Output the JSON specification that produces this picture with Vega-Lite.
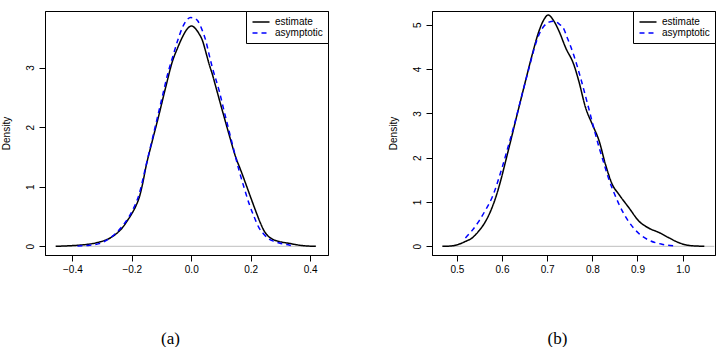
{
  "$schema": "https://vega.github.io/schema/vega-lite/v6.json",
  "background": "white",
  "padding": {"left": 0, "top": 10, "right": 0, "bottom": 0},
  "spacing": 104,
  "bounds": "flush",
  "resolve": {
    "scale": {"color": "independent", "strokeDash": "independent"},
    "legend": {"color": "independent", "strokeDash": "independent"}
  },
  "config": {
    "view": {"stroke": "black", "strokeWidth": 1},
    "axis": {
      "grid": false,
      "domainColor": "black",
      "tickColor": "black",
      "tickSize": 6,
      "labelFont": "Liberation Sans",
      "labelFontSize": 10,
      "labelColor": "black",
      "titleFont": "Liberation Sans",
      "titleFontWeight": "normal",
      "titleColor": "black"
    },
    "legend": {
      "orient": "top-right",
      "offset": 0,
      "title": null,
      "strokeColor": "black",
      "fillColor": "white",
      "padding": 5,
      "labelFont": "Liberation Sans",
      "labelFontSize": 10,
      "labelColor": "black",
      "symbolType": "M-1.7,0H1.7",
      "symbolSize": 100,
      "symbolStrokeWidth": 1.5,
      "labelOffset": 8,
      "symbolOffset": 4,
      "rowPadding": 0
    }
  },
  "datasets": {
    "za": [{"x": -0.456, "x2": 0.42, "y": 0}],
    "zb": [{"x": 0.468, "x2": 1.07, "y": 0}],
    "a": [
      {"series": "estimate", "x": -0.456, "y": 0},
      {"series": "estimate", "x": -0.40, "y": 0.012},
      {"series": "estimate", "x": -0.355, "y": 0.03},
      {"series": "estimate", "x": -0.31, "y": 0.07},
      {"series": "estimate", "x": -0.271, "y": 0.145},
      {"series": "estimate", "x": -0.250, "y": 0.22},
      {"series": "estimate", "x": -0.232, "y": 0.31},
      {"series": "estimate", "x": -0.215, "y": 0.43},
      {"series": "estimate", "x": -0.198, "y": 0.565},
      {"series": "estimate", "x": -0.186, "y": 0.68},
      {"series": "estimate", "x": -0.175, "y": 0.82},
      {"series": "estimate", "x": -0.164, "y": 1.04},
      {"series": "estimate", "x": -0.153, "y": 1.32},
      {"series": "estimate", "x": -0.131, "y": 1.77},
      {"series": "estimate", "x": -0.108, "y": 2.22},
      {"series": "estimate", "x": -0.086, "y": 2.67},
      {"series": "estimate", "x": -0.063, "y": 3.11},
      {"series": "estimate", "x": -0.046, "y": 3.33},
      {"series": "estimate", "x": -0.030, "y": 3.51},
      {"series": "estimate", "x": -0.015, "y": 3.64},
      {"series": "estimate", "x": 0.001, "y": 3.70},
      {"series": "estimate", "x": 0.013, "y": 3.66},
      {"series": "estimate", "x": 0.026, "y": 3.57},
      {"series": "estimate", "x": 0.038, "y": 3.45},
      {"series": "estimate", "x": 0.049, "y": 3.26},
      {"series": "estimate", "x": 0.060, "y": 3.06},
      {"series": "estimate", "x": 0.072, "y": 2.87},
      {"series": "estimate", "x": 0.083, "y": 2.67},
      {"series": "estimate", "x": 0.105, "y": 2.27},
      {"series": "estimate", "x": 0.127, "y": 1.88},
      {"series": "estimate", "x": 0.150, "y": 1.49},
      {"series": "estimate", "x": 0.167, "y": 1.27},
      {"series": "estimate", "x": 0.184, "y": 1.04},
      {"series": "estimate", "x": 0.200, "y": 0.82},
      {"series": "estimate", "x": 0.217, "y": 0.59},
      {"series": "estimate", "x": 0.231, "y": 0.41},
      {"series": "estimate", "x": 0.245, "y": 0.26},
      {"series": "estimate", "x": 0.259, "y": 0.17},
      {"series": "estimate", "x": 0.273, "y": 0.12},
      {"series": "estimate", "x": 0.296, "y": 0.08},
      {"series": "estimate", "x": 0.329, "y": 0.05},
      {"series": "estimate", "x": 0.350, "y": 0.03},
      {"series": "estimate", "x": 0.374, "y": 0.012},
      {"series": "estimate", "x": 0.419, "y": 0},
      {"series": "asymptotic", "x": -0.383, "y": 0.003},
      {"series": "asymptotic", "x": -0.35, "y": 0.015},
      {"series": "asymptotic", "x": -0.31, "y": 0.045},
      {"series": "asymptotic", "x": -0.265, "y": 0.17},
      {"series": "asymptotic", "x": -0.23, "y": 0.35},
      {"series": "asymptotic", "x": -0.198, "y": 0.60},
      {"series": "asymptotic", "x": -0.175, "y": 0.88},
      {"series": "asymptotic", "x": -0.153, "y": 1.34},
      {"series": "asymptotic", "x": -0.131, "y": 1.80},
      {"series": "asymptotic", "x": -0.114, "y": 2.16},
      {"series": "asymptotic", "x": -0.097, "y": 2.52},
      {"series": "asymptotic", "x": -0.08, "y": 2.88},
      {"series": "asymptotic", "x": -0.063, "y": 3.17},
      {"series": "asymptotic", "x": -0.046, "y": 3.45},
      {"series": "asymptotic", "x": -0.03, "y": 3.67},
      {"series": "asymptotic", "x": -0.015, "y": 3.80},
      {"series": "asymptotic", "x": -0.002, "y": 3.84},
      {"series": "asymptotic", "x": 0.010, "y": 3.83},
      {"series": "asymptotic", "x": 0.021, "y": 3.79},
      {"series": "asymptotic", "x": 0.035, "y": 3.65},
      {"series": "asymptotic", "x": 0.049, "y": 3.45},
      {"series": "asymptotic", "x": 0.060, "y": 3.22},
      {"series": "asymptotic", "x": 0.071, "y": 3.00},
      {"series": "asymptotic", "x": 0.094, "y": 2.61},
      {"series": "asymptotic", "x": 0.11, "y": 2.28},
      {"series": "asymptotic", "x": 0.127, "y": 1.94},
      {"series": "asymptotic", "x": 0.144, "y": 1.60},
      {"series": "asymptotic", "x": 0.161, "y": 1.27},
      {"series": "asymptotic", "x": 0.178, "y": 0.98},
      {"series": "asymptotic", "x": 0.195, "y": 0.71},
      {"series": "asymptotic", "x": 0.211, "y": 0.50},
      {"series": "asymptotic", "x": 0.228, "y": 0.31},
      {"series": "asymptotic", "x": 0.245, "y": 0.20},
      {"series": "asymptotic", "x": 0.262, "y": 0.12},
      {"series": "asymptotic", "x": 0.28, "y": 0.08},
      {"series": "asymptotic", "x": 0.296, "y": 0.055},
      {"series": "asymptotic", "x": 0.315, "y": 0.033},
      {"series": "asymptotic", "x": 0.335, "y": 0.015}
    ],
    "b": [
      {"series": "estimate", "x": 0.468, "y": 0},
      {"series": "estimate", "x": 0.490, "y": 0.01},
      {"series": "estimate", "x": 0.504, "y": 0.045},
      {"series": "estimate", "x": 0.519, "y": 0.11},
      {"series": "estimate", "x": 0.534, "y": 0.19},
      {"series": "estimate", "x": 0.549, "y": 0.35},
      {"series": "estimate", "x": 0.564, "y": 0.57},
      {"series": "estimate", "x": 0.575, "y": 0.80},
      {"series": "estimate", "x": 0.586, "y": 1.10},
      {"series": "estimate", "x": 0.597, "y": 1.48},
      {"series": "estimate", "x": 0.608, "y": 1.92},
      {"series": "estimate", "x": 0.619, "y": 2.37},
      {"series": "estimate", "x": 0.630, "y": 2.83},
      {"series": "estimate", "x": 0.641, "y": 3.28},
      {"series": "estimate", "x": 0.652, "y": 3.73},
      {"series": "estimate", "x": 0.667, "y": 4.33},
      {"series": "estimate", "x": 0.682, "y": 4.86},
      {"series": "estimate", "x": 0.693, "y": 5.12},
      {"series": "estimate", "x": 0.702, "y": 5.22},
      {"series": "estimate", "x": 0.715, "y": 5.08},
      {"series": "estimate", "x": 0.726, "y": 4.86},
      {"series": "estimate", "x": 0.741, "y": 4.48},
      {"series": "estimate", "x": 0.759, "y": 4.10},
      {"series": "estimate", "x": 0.770, "y": 3.73},
      {"series": "estimate", "x": 0.785, "y": 3.13},
      {"series": "estimate", "x": 0.800, "y": 2.75},
      {"series": "estimate", "x": 0.815, "y": 2.38},
      {"series": "estimate", "x": 0.829, "y": 1.85},
      {"series": "estimate", "x": 0.844, "y": 1.40},
      {"series": "estimate", "x": 0.859, "y": 1.17},
      {"series": "estimate", "x": 0.881, "y": 0.87},
      {"series": "estimate", "x": 0.903, "y": 0.57},
      {"series": "estimate", "x": 0.925, "y": 0.41},
      {"series": "estimate", "x": 0.948, "y": 0.31},
      {"series": "estimate", "x": 0.970, "y": 0.19},
      {"series": "estimate", "x": 0.992, "y": 0.08},
      {"series": "estimate", "x": 1.014, "y": 0.02},
      {"series": "estimate", "x": 1.048, "y": 0},
      {"series": "asymptotic", "x": 0.519, "y": 0.19},
      {"series": "asymptotic", "x": 0.534, "y": 0.36},
      {"series": "asymptotic", "x": 0.549, "y": 0.57},
      {"series": "asymptotic", "x": 0.563, "y": 0.81},
      {"series": "asymptotic", "x": 0.578, "y": 1.10},
      {"series": "asymptotic", "x": 0.600, "y": 1.77},
      {"series": "asymptotic", "x": 0.615, "y": 2.30},
      {"series": "asymptotic", "x": 0.630, "y": 2.85},
      {"series": "asymptotic", "x": 0.645, "y": 3.45},
      {"series": "asymptotic", "x": 0.660, "y": 4.03},
      {"series": "asymptotic", "x": 0.671, "y": 4.45},
      {"series": "asymptotic", "x": 0.682, "y": 4.78},
      {"series": "asymptotic", "x": 0.693, "y": 4.97},
      {"series": "asymptotic", "x": 0.704, "y": 5.06},
      {"series": "asymptotic", "x": 0.714, "y": 5.08},
      {"series": "asymptotic", "x": 0.726, "y": 5.02},
      {"series": "asymptotic", "x": 0.737, "y": 4.90},
      {"series": "asymptotic", "x": 0.744, "y": 4.72},
      {"series": "asymptotic", "x": 0.759, "y": 4.31},
      {"series": "asymptotic", "x": 0.774, "y": 3.80},
      {"series": "asymptotic", "x": 0.789, "y": 3.23},
      {"series": "asymptotic", "x": 0.804, "y": 2.64},
      {"series": "asymptotic", "x": 0.815, "y": 2.23},
      {"series": "asymptotic", "x": 0.826, "y": 1.86},
      {"series": "asymptotic", "x": 0.837, "y": 1.50},
      {"series": "asymptotic", "x": 0.848, "y": 1.21},
      {"series": "asymptotic", "x": 0.859, "y": 0.95},
      {"series": "asymptotic", "x": 0.870, "y": 0.73},
      {"series": "asymptotic", "x": 0.881, "y": 0.55},
      {"series": "asymptotic", "x": 0.903, "y": 0.29},
      {"series": "asymptotic", "x": 0.925, "y": 0.14},
      {"series": "asymptotic", "x": 0.954, "y": 0.048},
      {"series": "asymptotic", "x": 0.985, "y": 0.01}
    ]
  },
  "hconcat": [
    {
      "width": 283,
      "height": 244,
      "layer": [
        {
          "data": {"name": "za"},
          "mark": {"type": "rule", "color": "#bebebe", "strokeWidth": 1},
          "encoding": {
            "x": {"field": "x", "type": "quantitative"},
            "x2": {"field": "x2"},
            "y": {"field": "y", "type": "quantitative"}
          }
        },
        {
          "data": {"name": "a"},
          "mark": {"type": "line", "strokeWidth": 1.5, "interpolate": "monotone"},
          "encoding": {
            "x": {
              "field": "x", "type": "quantitative",
              "scale": {"domain": [-0.492, 0.46], "nice": false, "zero": false},
              "axis": {"values": [-0.4, -0.2, 0, 0.2, 0.4], "format": ".1f", "labelPadding": 3,
                       "title": "(a)", "titleFont": "Liberation Serif", "titleFontSize": 17, "titlePadding": 56, "titleX": 125}
            },
            "y": {
              "field": "y", "type": "quantitative",
              "scale": {"domain": [-0.146, 3.95], "nice": false, "zero": false},
              "axis": {"values": [0, 1, 2, 3], "format": "d", "labelAngle": -90, "labelAlign": "center", "labelBaseline": "bottom",
                       "labelPadding": 4, "title": "Density", "titleFontSize": 10, "titlePadding": 14}
            },
            "color": {"field": "series", "type": "nominal",
                      "scale": {"domain": ["estimate", "asymptotic"], "range": ["black", "blue"]}},
            "strokeDash": {"field": "series", "type": "nominal",
                           "scale": {"domain": ["estimate", "asymptotic"], "range": [[1, 0], [5, 4]]}}
          }
        }
      ]
    },
    {
      "width": 283,
      "height": 244,
      "layer": [
        {
          "data": {"name": "zb"},
          "mark": {"type": "rule", "color": "#bebebe", "strokeWidth": 1},
          "encoding": {
            "x": {"field": "x", "type": "quantitative"},
            "x2": {"field": "x2"},
            "y": {"field": "y", "type": "quantitative"}
          }
        },
        {
          "data": {"name": "b"},
          "mark": {"type": "line", "strokeWidth": 1.5, "interpolate": "monotone"},
          "encoding": {
            "x": {
              "field": "x", "type": "quantitative",
              "scale": {"domain": [0.445, 1.0716], "nice": false, "zero": false},
              "axis": {"values": [0.5, 0.6, 0.7, 0.8, 0.9, 1.0], "format": ".1f", "labelPadding": 3,
                       "title": "(b)", "titleFont": "Liberation Serif", "titleFontSize": 17, "titlePadding": 56, "titleX": 125}
            },
            "y": {
              "field": "y", "type": "quantitative",
              "scale": {"domain": [-0.196, 5.31], "nice": false, "zero": false},
              "axis": {"values": [0, 1, 2, 3, 4, 5], "format": "d", "labelAngle": -90, "labelAlign": "center", "labelBaseline": "bottom",
                       "labelPadding": 4, "title": "Density", "titleFontSize": 10, "titlePadding": 14}
            },
            "color": {"field": "series", "type": "nominal",
                      "scale": {"domain": ["estimate", "asymptotic"], "range": ["black", "blue"]}},
            "strokeDash": {"field": "series", "type": "nominal",
                           "scale": {"domain": ["estimate", "asymptotic"], "range": [[1, 0], [5, 4]]}}
          }
        }
      ]
    }
  ]
}
